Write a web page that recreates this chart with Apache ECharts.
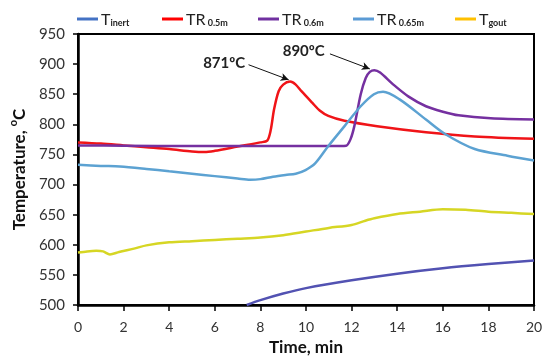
<!DOCTYPE html>
<html><head><meta charset="utf-8">
<script src="https://cdn.jsdelivr.net/npm/echarts@6/dist/echarts.min.js"></script>
<style>html,body{margin:0;padding:0;background:#fff}#c{width:550px;height:361px}</style>
</head><body><div id="c"></div>
<script>
const xTicks = [0,2,4,6,8,10,12,14,16,18,20];
const yTicks = [500,550,600,650,700,750,800,850,900,950];
const seriesNames = ['T_inert','TR_0.5m','TR_0.6m','TR_0.65m','T_gout'];

const tInert = [[7.4,500],[8,508],[9,519],[10,528],[12,541],[14,552],[16,561],[18,568],[20,574]];
const tr05 = [[0,770],[1,768],[2,765],[3,762],[4,759],[5,755],[5.55,754],[6,756],[7,763],[8,770],[8.3,773],[8.45,790],[8.6,825],[8.8,855],[9.0,866],[9.3,871],[9.55,866],[9.8,855],[10.27,836],[10.6,823],[10.98,814],[11.69,806],[13.12,797],[15.26,787],[17.4,780],[20,776]];
const tr06 = [[0,765],[2,764.5],[5,764],[8,764],[10,764],[11.5,764],[11.76,764.5],[11.95,775],[12.12,797],[12.4,850],[12.62,877],[12.8,887],[13.0,890],[13.25,886],[13.83,866],[14.5,846],[15.26,830],[16,821],[16.69,815],[18.1,810],[20,808]];
const tr065 = [[0,733],[1,731],[1.84,730],[3,726],[4,722],[5,718],[6,714],[7,710],[7.55,708],[8,709],[8.55,713],[9.1,716],[9.55,718],[9.98,724],[10.4,735],[10.98,764],[11.69,797],[12.4,830],[12.98,850],[13.38,854],[14.12,841],[15.26,808],[16.1,784],[17.4,759],[18.83,748],[20,740]];
const tGout = [[0,587],[0.4,589],[0.8,590],[1.1,589],[1.4,584],[1.8,588],[2.5,594],[3,599],[4,604],[5,606],[6,608],[7,610],[8,612],[9,616],[10,622],[11,628],[12,633],[12.6,640],[13,644],[14,651],[15,655],[16,659],[17,658],[18,655],[19,653],[20,651]];

const peakLabels = ['871ºC','890ºC'];
const peak1Text = [6.41,902]; const peak1Arrow = [[7.48,899],[9.24,874]];
const peak2Text = [9.9,922]; const peak2Arrow = [[11.05,917],[12.8,892]];

const lineColors = ['#5252b2','#f01418','#7530a0','#5ca2d2','#d6d624'];
const legendColors = ['#4472c4','#ff0000','#7030a0','#5b9bd5','#ffc000'];
const legendLeft = [72,157,253,348,450];
const FONT = 'Lato, "Open Sans", sans-serif';

const chart = echarts.init(document.getElementById('c'), null, {renderer:'canvas'});
const datas = [tInert,tr05,tr06,tr065,tGout];

function legendFmt(name){
  const [a,b] = name.split('_');
  return '{m|' + a + '}{s|' + (a==='TR' ? ' ' : '') + b + '}';
}

const legends = seriesNames.map((n,i)=>({
  data:[{name:n, icon:'rect', itemStyle:{color:legendColors[i]}}],
  left: legendLeft[i], top: 7, itemWidth: 21, itemHeight: 3, itemGap: 4,
  formatter: legendFmt,
  textStyle:{ padding:[0,0,0,-2], rich:{
    m:{fontSize:16, fontFamily:FONT, color:'#222', lineHeight:18, verticalAlign:'bottom'},
    s:{fontSize:9, fontFamily:FONT, fontWeight:'bold', color:'#222', lineHeight:10, verticalAlign:'bottom'}
  }}
}));

const series = seriesNames.map((n,i)=>({
  name:n, type:'line', data:datas[i], showSymbol:false, symbol:'none', smooth:0.3,
  lineStyle:{color:lineColors[i], width:2.5}, itemStyle:{color:legendColors[i]},
  clip:true, z:3
}));

function annot(textPos, arrow, label){
  return {
    markLine:{ silent:true, symbol:['none','arrow'], symbolSize:[6,8],
      lineStyle:{color:'#111', width:1, type:'solid'}, label:{show:false},
      data:[[{coord:arrow[0]},{coord:arrow[1]}]] },
    markPoint:{ silent:true, symbol:'circle', symbolSize:0,
      label:{show:true, formatter:label, color:'#222', fontSize:15, fontWeight:'bold', fontFamily:FONT},
      data:[{coord:textPos}] }
  };
}
Object.assign(series[1], annot(peak1Text, peak1Arrow, peakLabels[0]));
Object.assign(series[2], annot(peak2Text, peak2Arrow, peakLabels[1]));

chart.setOption({
  animation:false,
  legend: legends,
  grid:{left:67, right:16, top:34, bottom:55, show:true, borderColor:'#000', borderWidth:2, containLabel:false},
  xAxis:{type:'value', min:xTicks[0], max:xTicks[xTicks.length-1], interval:2,
    name:'Time, min', nameLocation:'middle', nameGap:34,
    nameTextStyle:{fontSize:17, fontWeight:'bold', fontFamily:FONT, color:'#111'},
    axisLine:{show:true, onZero:false, lineStyle:{color:'#000', width:2.5}},
    axisTick:{show:true, length:6, lineStyle:{color:'#000', width:1.5}},
    axisLabel:{margin:15, fontSize:14, fontFamily:FONT, color:'#333'},
    splitLine:{show:false}},
  yAxis:{type:'value', min:yTicks[0], max:yTicks[yTicks.length-1], interval:50,
    name:'{a|Temperature, }{sup|o}{a|C}', nameLocation:'middle', nameGap:42, nameRotate:90,
    nameTextStyle:{rich:{
      a:{fontSize:17, fontWeight:'bold', fontFamily:FONT, color:'#111', lineHeight:20, verticalAlign:'bottom'},
      sup:{fontSize:11, fontWeight:'bold', fontFamily:FONT, color:'#111', lineHeight:20, verticalAlign:'top'}
    }},
    axisLine:{show:true, lineStyle:{color:'#000', width:2.5}},
    axisTick:{show:true, length:5, lineStyle:{color:'#000', width:1.5}},
    axisLabel:{margin:13, fontSize:15, fontFamily:FONT, color:'#333'},
    splitLine:{show:false}},
  series: series
});
</script></body></html>
